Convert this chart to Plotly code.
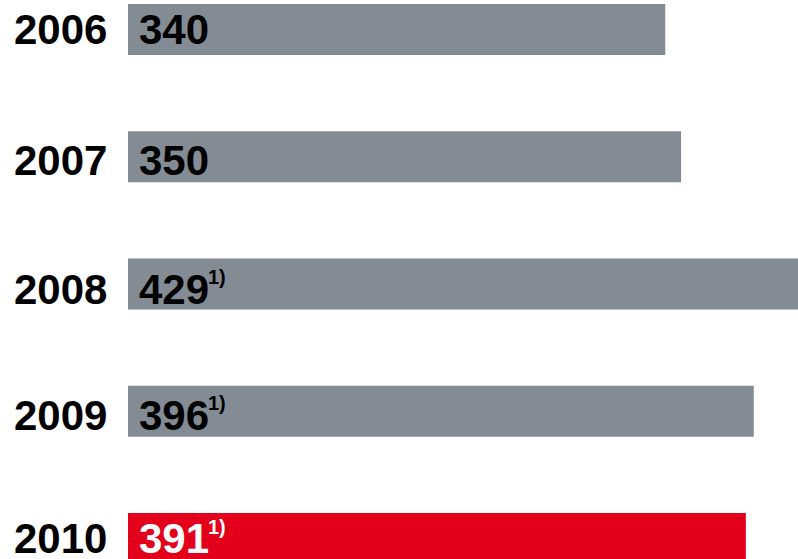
import plotly.graph_objects as go

years = ["2006", "2007", "2008", "2009", "2010"]
values = [340, 350, 429, 396, 391]
footnote = ["", "", "1)", "1)", "1)"]
bar_colors = ["#838C94", "#838C94", "#838C94", "#838C94", "#E2001A"]
label_colors = ["#000000", "#000000", "#000000", "#000000", "#FFFFFF"]

# layout-only: small vertical nudges of row labels (px, positive = up)
label_nudge = [0, -4, -5, -4, 0]

FONT = "Liberation Sans, Arial, sans-serif"
MAIN = 42
SUP = 20

fig = go.Figure()
fig.add_trace(go.Bar(
    x=values,
    y=list(range(len(years))),
    orientation="h",
    marker=dict(color=bar_colors, line=dict(width=0)),
    width=0.4,
    hoverinfo="skip",
))

annotations = []
for i, (yr, v, fn, lc) in enumerate(zip(years, values, footnote, label_colors)):
    ny = label_nudge[i]
    annotations.append(dict(
        x=0, y=i, xref="paper", yref="y", xanchor="right", yanchor="middle",
        xshift=-19, yshift=ny, text="<b>%s</b>" % yr, showarrow=False,
        font=dict(family=FONT, size=MAIN, color="#000000"),
    ))
    num = "%d" % v
    annotations.append(dict(
        x=0, y=i, xref="x", yref="y", xanchor="left", yanchor="middle",
        xshift=9, yshift=ny, text="<b>%s</b>" % num, showarrow=False,
        font=dict(family=FONT, size=MAIN, color=lc),
    ))
    if fn:
        annotations.append(dict(
            x=0, y=i, xref="x", yref="y", xanchor="left", yanchor="middle",
            xshift=9 + round(len(num) * 0.556 * MAIN) - 1, yshift=ny + 12,
            text="<b>%s</b>" % fn, showarrow=False,
            font=dict(family=FONT, size=SUP, color=lc),
        ))

fig.update_layout(
    width=798, height=559,
    margin=dict(l=128, r=0, t=0, b=0, pad=0),
    paper_bgcolor="white", plot_bgcolor="white",
    showlegend=False,
    xaxis=dict(range=[0, 424], visible=False, fixedrange=True),
    yaxis=dict(range=[4.161, -0.2318], visible=False, fixedrange=True),
    annotations=annotations,
)

fig.write_html(
    "out.html",
    config={"displayModeBar": False},
    post_script="document.body.style.margin='0';document.body.style.overflow='hidden';",
)
